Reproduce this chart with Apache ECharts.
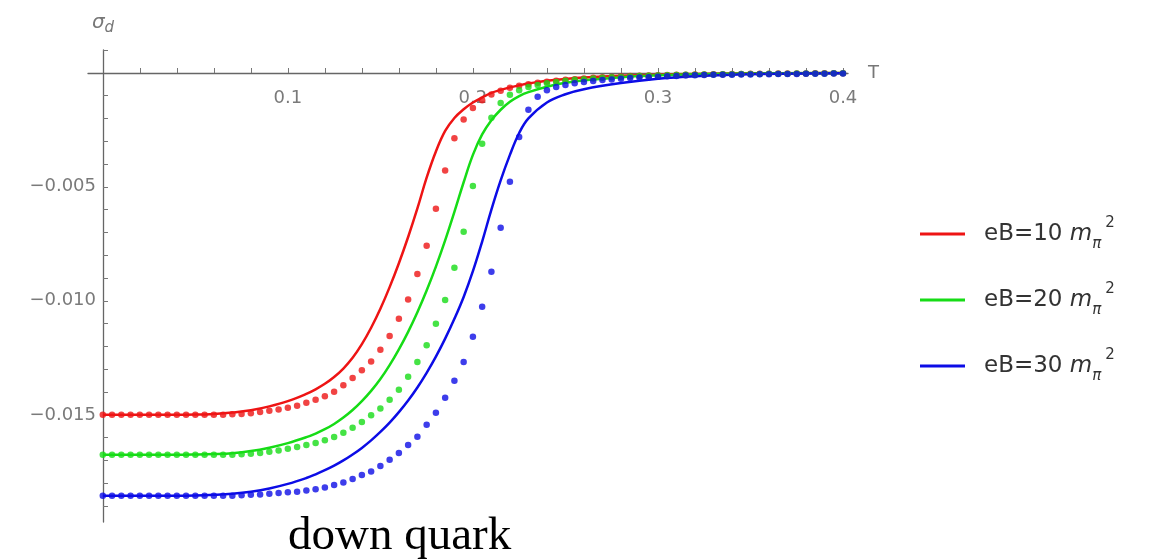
<!DOCTYPE html>
<html>
<head>
<meta charset="utf-8">
<script src="https://cdn.jsdelivr.net/npm/echarts@6/dist/echarts.min.js"></script>
<style>html,body{margin:0;padding:0;background:#fff;}#c{width:1151px;height:560px;}</style>
</head>
<body>
<div id="c"></div>
<script>
// ---- data ----
const seriesNames = ['eB=10', 'eB=20', 'eB=30'];
const legendNums = ['10', '20', '30'];

// solid curves (T, sigma_d)
const lineT = [0, 0.02, 0.04, 0.05, 0.06, 0.07, 0.08, 0.09, 0.1, 0.11, 0.115, 0.12, 0.125, 0.13, 0.135, 0.14, 0.145, 0.15, 0.155, 0.16, 0.165, 0.17, 0.175, 0.18, 0.185, 0.19, 0.195, 0.2, 0.205, 0.21, 0.215, 0.22, 0.225, 0.23, 0.24, 0.25, 0.26, 0.28, 0.3, 0.32, 0.35, 0.4];
const lineRed = [-0.015, -0.015, -0.015, -0.01499, -0.01496, -0.0149, -0.0148, -0.01463, -0.0144, -0.01408, -0.01388, -0.01364, -0.01334, -0.01297, -0.0125, -0.0119, -0.01118, -0.01035, -0.0094, -0.00835, -0.0072, -0.00595, -0.0046, -0.00345, -0.00255, -0.00198, -0.0016, -0.0013, -0.00108, -0.00088, -0.00075, -0.00064, -0.00055, -0.00047, -0.00035, -0.00027, -0.00021, -0.00013, -0.00008, -0.00005, -0.00002, -0.00001];
const lineGreen = [-0.01675, -0.01675, -0.01675, -0.01674, -0.01672, -0.01668, -0.01659, -0.01644, -0.01624, -0.01598, -0.01582, -0.01563, -0.0154, -0.01512, -0.01479, -0.0144, -0.01395, -0.01343, -0.01282, -0.01213, -0.01136, -0.0105, -0.00955, -0.0085, -0.00735, -0.0061, -0.0048, -0.0036, -0.0027, -0.00208, -0.00162, -0.00127, -0.00102, -0.00085, -0.00061, -0.00044, -0.00033, -0.00019, -0.00011, -0.00006, -0.00003, -0.00001];
const lineBlue = [-0.01855, -0.01855, -0.01855, -0.01854, -0.01851, -0.01846, -0.01837, -0.01823, -0.01803, -0.01777, -0.01761, -0.01743, -0.01723, -0.017, -0.01674, -0.01645, -0.01612, -0.01575, -0.01534, -0.01488, -0.01437, -0.0138, -0.01316, -0.01245, -0.01166, -0.01079, -0.00983, -0.0087, -0.0074, -0.006, -0.00472, -0.0036, -0.00264, -0.002, -0.0013, -0.00094, -0.00072, -0.00045, -0.00026, -0.00015, -0.00006, -0.00002];

// dotted points (T grid of the dots)
const dotT = [0, 0.005, 0.01, 0.015, 0.02, 0.025, 0.03, 0.035, 0.04, 0.045, 0.05, 0.055, 0.06, 0.065, 0.07, 0.075, 0.08, 0.085, 0.09, 0.095,
  0.1, 0.105, 0.11, 0.115, 0.12, 0.125, 0.13, 0.135, 0.14, 0.145, 0.15, 0.155, 0.16, 0.165, 0.17, 0.175, 0.18, 0.185, 0.19, 0.195,
  0.2, 0.205, 0.21, 0.215, 0.22, 0.225, 0.23, 0.235, 0.24, 0.245, 0.25, 0.255, 0.26, 0.265, 0.27, 0.275, 0.28, 0.285, 0.29, 0.295,
  0.3, 0.305, 0.31, 0.315, 0.32, 0.325, 0.33, 0.335, 0.34, 0.345, 0.35, 0.355, 0.36, 0.365, 0.37, 0.375, 0.38, 0.385, 0.39, 0.395, 0.4];
const dotRed = [-0.015, -0.015, -0.015, -0.015, -0.015, -0.015, -0.015, -0.015, -0.015, -0.015, -0.015, -0.015, -0.015, -0.015,
  -0.01498, -0.01496, -0.01493, -0.01488, -0.01482, -0.01477, -0.01469, -0.0146, -0.01447, -0.01434, -0.01419, -0.01399, -0.0137, -0.01338,
  -0.01305, -0.01266, -0.01215, -0.01154, -0.01079, -0.00994, -0.00882, -0.00758, -0.00596, -0.00428, -0.00287, -0.00205, -0.00154,
  -0.0012, -0.00095, -0.00079, -0.00066, -0.00057, -0.0005, -0.00044, -0.00039, -0.00035, -0.00031, -0.00028, -0.00025, -0.00022,
  -0.0002, -0.00018, -0.00016, -0.00014, -0.00013, -0.00012, -0.00011, -0.0001, -0.00009, -0.00008, -0.00007, -0.00007, -0.00006,
  -0.00006, -0.00005, -0.00005, -0.00004, -0.00004, -0.00004, -0.00003, -0.00003, -0.00003, -0.00003, -0.00002, -0.00002, -0.00002, -0.00002];
const dotGreen = [-0.01675, -0.01675, -0.01675, -0.01675, -0.01675, -0.01675, -0.01675, -0.01675, -0.01675, -0.01675, -0.01675, -0.01675, -0.01675, -0.01675, -0.01675,
  -0.01673, -0.01671, -0.01667, -0.01662, -0.01656, -0.01649, -0.01641, -0.01632, -0.01623, -0.01612, -0.01597, -0.01579, -0.01557,
  -0.01531, -0.01502, -0.01472, -0.01434, -0.0139, -0.01333, -0.01268, -0.01195, -0.01101, -0.00996, -0.00855, -0.00697, -0.00496,
  -0.00311, -0.00197, -0.00132, -0.00096, -0.00076, -0.00062, -0.00053, -0.00046, -0.0004, -0.00035, -0.00031, -0.00028, -0.00025,
  -0.00022, -0.0002, -0.00018, -0.00016, -0.00014, -0.00013, -0.00012, -0.00011, -0.0001, -0.00009, -0.00008, -0.00007, -0.00007,
  -0.00006, -0.00006, -0.00005, -0.00005, -0.00005, -0.00004, -0.00004, -0.00004, -0.00003, -0.00003, -0.00003, -0.00003, -0.00002, -0.00002];
const dotBlue = [-0.01855, -0.01855, -0.01855, -0.01855, -0.01855, -0.01855, -0.01855, -0.01855, -0.01855, -0.01855, -0.01855, -0.01855, -0.01855, -0.01855, -0.01855,
  -0.01853, -0.01851, -0.01849, -0.01846, -0.01843, -0.0184, -0.01837, -0.01832, -0.01826, -0.01819, -0.01808, -0.01797, -0.01781,
  -0.01764, -0.01748, -0.01724, -0.01697, -0.01667, -0.01632, -0.01596, -0.01544, -0.01491, -0.01425, -0.01351, -0.01268, -0.01158,
  -0.01026, -0.00873, -0.0068, -0.00478, -0.00281, -0.00162, -0.00105, -0.00077, -0.00062, -0.00053, -0.00046, -0.0004, -0.00036,
  -0.00032, -0.00029, -0.00026, -0.00023, -0.00021, -0.00019, -0.00017, -0.00015, -0.00014, -0.00012, -0.00011, -0.0001, -0.00009,
  -0.00009, -0.00008, -0.00007, -0.00007, -0.00006, -0.00006, -0.00005, -0.00005, -0.00005, -0.00004, -0.00004, -0.00004, -0.00003, -0.00003];

// axis ticks / labels
const xTickValues = [0.02, 0.04, 0.06, 0.08, 0.1, 0.12, 0.14, 0.16, 0.18, 0.2, 0.22, 0.24, 0.26, 0.28, 0.3, 0.32, 0.34, 0.36, 0.38, 0.4];
const xLabelValues = [0.1, 0.2, 0.3, 0.4];
const yTickValues = [0.001, -0.001, -0.002, -0.003, -0.004, -0.005, -0.006, -0.007, -0.008, -0.009, -0.01, -0.011, -0.012, -0.013, -0.014, -0.015, -0.016, -0.017, -0.018, -0.019];
const yLabelValues = [-0.015, -0.01, -0.005];

// ---- chart ----
const colors = ['#ee1414', '#16dc16', '#0c0ce6'];
const lineVals = [lineRed, lineGreen, lineBlue];
const dotVals = [dotRed, dotGreen, dotBlue];
const pair = (xs, ys) => xs.map((x, i) => [x, ys[i]]);

const series = [];
for (let k = 0; k < 3; k++) {
  series.push({
    name: seriesNames[k], type: 'line', data: pair(lineT, lineVals[k]),
    showSymbol: false, smooth: 0.4,
    lineStyle: { color: colors[k], width: 2.5 }, itemStyle: { color: colors[k] }, z: 2
  });
}
for (let k = 0; k < 3; k++) {
  series.push({
    name: 'dots' + legendNums[k], type: 'scatter', data: pair(dotT, dotVals[k]),
    symbolSize: 6.5, itemStyle: { color: colors[k] }, z: 3
  });
}

const legendTops = [216, 282, 348];
const richLegend = {
  a: { fontFamily: 'DejaVu Sans', fontSize: 23, color: '#333', lineHeight: 36, padding: [0, 0, 0, 14] },
  m: { fontFamily: 'DejaVu Sans', fontSize: 23, fontStyle: 'italic', color: '#333', lineHeight: 36 },
  s: { fontFamily: 'DejaVu Sans', fontSize: 15, fontStyle: 'italic', color: '#333', lineHeight: 15, verticalAlign: 'bottom' },
  p: { fontFamily: 'DejaVu Sans', fontSize: 15, color: '#333', lineHeight: 15, verticalAlign: 'top', padding: [0, 0, 0, 4] }
};
const legends = seriesNames.map((n, k) => ({
  data: [n], left: 920, top: legendTops[k], padding: 0, selectedMode: false,
  icon: 'rect', itemWidth: 45, itemHeight: 3,
  formatter: () => '{a|eB=' + legendNums[k] + ' }{m|m}{s|π}{p|2}',
  textStyle: { rich: richLegend }
}));

const chart = echarts.init(document.getElementById('c'), null, { renderer: 'canvas' });
chart.setOption({
  animation: false,
  backgroundColor: '#fff',
  title: {
    text: 'down quark', left: 288, top: 513, padding: 0,
    textStyle: { fontFamily: 'Liberation Serif', fontSize: 47, fontWeight: 'normal', color: '#000' }
  },
  legend: legends,
  grid: { left: 88, right: 303, top: 50, bottom: 38, containLabel: false },
  xAxis: {
    type: 'value', min: -0.008, max: 0.4027, position: 'bottom', offset: -449,
    name: 'T', nameLocation: 'end', nameGap: 20,
    nameTextStyle: { fontFamily: 'DejaVu Sans', fontSize: 18, color: '#777' },
    axisLine: { onZero: false, lineStyle: { color: '#666', width: 1.3 } },
    axisTick: { inside: true, length: 5, customValues: xTickValues, lineStyle: { color: '#777', width: 1 } },
    axisLabel: { customValues: xLabelValues, margin: 16, formatter: v => v.toFixed(1),
      fontFamily: 'DejaVu Sans', fontSize: 18, color: '#7a7a7a' },
    splitLine: { show: false }
  },
  yAxis: {
    type: 'value', min: -0.0197, max: 0.001, position: 'left', offset: -15,
    name: '{s|σ}{d|d}', nameLocation: 'end', nameGap: 14,
    nameTextStyle: { rich: {
      s: { fontFamily: 'DejaVu Sans', fontSize: 20, fontStyle: 'italic', color: '#777', lineHeight: 26 },
      d: { fontFamily: 'DejaVu Sans', fontSize: 15, fontStyle: 'italic', color: '#777', lineHeight: 15, verticalAlign: 'bottom' }
    } },
    axisLine: { onZero: false, lineStyle: { color: '#666', width: 1.3 } },
    axisTick: { inside: true, length: 5, customValues: yTickValues, lineStyle: { color: '#777', width: 1 } },
    axisLabel: { customValues: yLabelValues, margin: 7, formatter: v => '\u2212' + Math.abs(v).toFixed(3),
      fontFamily: 'DejaVu Sans', fontSize: 18, color: '#7a7a7a' },
    splitLine: { show: false }
  },
  series: series
});
</script>
</body>
</html>
